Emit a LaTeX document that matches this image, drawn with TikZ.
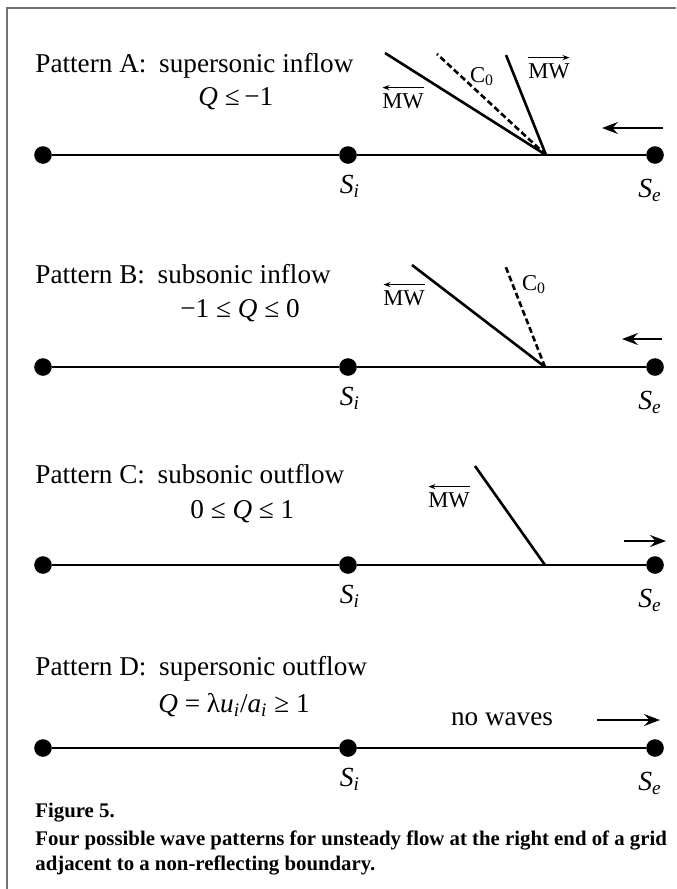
\documentclass[tikz,border=0pt]{standalone}
\usepackage{fontspec}
\setmainfont{Liberation Serif}
\usetikzlibrary{arrows.meta,positioning}

\begin{document}
\begin{tikzpicture}[x=0.5pt, y=-0.5pt,
    >={Stealth[length=8pt, width=6pt, inset=2.8pt]},
    frame/.style={draw=black!55, line width=0.8pt},
    dot/.style={circle, fill=black, inner sep=0pt, minimum size=8.8pt},
    grid/.style={line width=1pt},
    wave/.style={line width=1.3pt},
    sonic/.style={line width=1.3pt, dash pattern=on 3pt off 1.6pt},
    flow/.style={->, line width=1pt},
    mwarrow/.style={-{Stealth[length=3.5pt, width=2.6pt]}, line width=0.55pt, shorten >=0.3pt},
    title/.style={anchor=base west, inner sep=0pt, font=\fontsize{13.6}{16}\selectfont},
    wlabel/.style={anchor=base, inner sep=0pt, font=\fontsize{11.3}{13}\selectfont},
    slabel/.style={anchor=base, inner sep=0pt, font=\fontsize{13.8}{16}\selectfont\itshape},
    caption/.style={anchor=base west, inner sep=0pt, font=\fontsize{10.4}{13}\selectfont\bfseries}]
  \useasboundingbox (0,0) rectangle (676,889);
  \draw[frame] (7,889) -- (7,8) -- (676,8);

  % Pattern A
  \node[title] (titleA) at (35,72) {Pattern A:\hspace{0.22em} supersonic inflow};
  \node[title] (condA) at (198,105) {\textit{Q} ≤\,−1};
  \node[dot] (leftA) at (43,155) {};
  \node[dot] (siA) at (348,155) {};
  \node[dot] (seA) at (655,155) {};
  \draw[grid] (leftA) -- (siA) -- (seA);
  \node[slabel] (labSiA) at (350,193) {S\textsubscript{i}};
  \node[slabel] (labSeA) at (650,197) {S\textsubscript{e}};
  \coordinate (origA) at (546,155);
  \coordinate (mwlA) at (385,53);
  \coordinate (czA) at (437,54);
  \coordinate (mwrA) at (506,55);
  \draw[wave] (origA) -- (mwlA);
  \draw[sonic] (origA) -- (czA);
  \draw[wave] (origA) -- (mwrA);
  \node[wlabel] (labMwlA) at (403,108) {MW};
  \draw[mwarrow] ([yshift=2.6pt]labMwlA.north east) -- ([yshift=2.6pt]labMwlA.north west);
  \node[wlabel] (labCzA) at (482,82) {C\textsubscript{0}};
  \node[wlabel] (labMwrA) at (549,78) {MW};
  \draw[mwarrow] ([yshift=2.6pt]labMwrA.north west) -- ([yshift=2.6pt]labMwrA.north east);
  \coordinate (fromA) at (663,128);
  \coordinate (toA) at (602,128);
  \draw[flow] (fromA) -- (toA);

  % Pattern B
  \node[title] (titleB) at (35,283) {Pattern B:\hspace{0.22em} subsonic inflow};
  \node[title] (condB) at (180,317) {−1 ≤ \textit{Q} ≤ 0};
  \node[dot] (leftB) at (43,367) {};
  \node[dot] (siB) at (348,367) {};
  \node[dot] (seB) at (655,367) {};
  \draw[grid] (leftB) -- (siB) -- (seB);
  \node[slabel] (labSiB) at (350,405) {S\textsubscript{i}};
  \node[slabel] (labSeB) at (650,409) {S\textsubscript{e}};
  \coordinate (origB) at (545,367);
  \coordinate (mwB) at (412,265);
  \coordinate (czB) at (505,265);
  \draw[wave] (origB) -- (mwB);
  \draw[sonic] (origB) -- (czB);
  \node[wlabel] (labMwB) at (404,305) {MW};
  \draw[mwarrow] ([yshift=2.6pt]labMwB.north east) -- ([yshift=2.6pt]labMwB.north west);
  \node[wlabel] (labCzB) at (534,290) {C\textsubscript{0}};
  \coordinate (fromB) at (662,339);
  \coordinate (toB) at (622,339);
  \draw[flow] (fromB) -- (toB);

  % Pattern C
  \node[title] (titleC) at (35,483) {Pattern C:\hspace{0.22em} subsonic outflow};
  \node[title] (condC) at (190,518) {0 ≤ \textit{Q} ≤ 1};
  \node[dot] (leftC) at (43,565) {};
  \node[dot] (siC) at (348,565) {};
  \node[dot] (seC) at (655,565) {};
  \draw[grid] (leftC) -- (siC) -- (seC);
  \node[slabel] (labSiC) at (350,603) {S\textsubscript{i}};
  \node[slabel] (labSeC) at (650,607) {S\textsubscript{e}};
  \coordinate (origC) at (545,565);
  \coordinate (mwC) at (475,466);
  \draw[wave] (origC) -- (mwC);
  \node[wlabel] (labMwC) at (449,507) {MW};
  \draw[mwarrow] ([yshift=2.6pt]labMwC.north east) -- ([yshift=2.6pt]labMwC.north west);
  \coordinate (fromC) at (624,541);
  \coordinate (toC) at (666,541);
  \draw[flow] (fromC) -- (toC);

  % Pattern D
  \node[title] (titleD) at (35,675) {Pattern D:\hspace{0.22em} supersonic outflow};
  \node[title] (condD) at (158,712) {\textit{Q} = λ\textit{u}\textsubscript{\itshape i}/\textit{a}\textsubscript{\itshape i} ≥ 1};
  \node[dot] (leftD) at (43,748) {};
  \node[dot] (siD) at (348,748) {};
  \node[dot] (seD) at (655,748) {};
  \draw[grid] (leftD) -- (siD) -- (seD);
  \node[slabel] (labSiD) at (350,786) {S\textsubscript{i}};
  \node[slabel] (labSeD) at (650,790) {S\textsubscript{e}};
  \node[title, anchor=base] (nowaves) at (502,725) {no waves};
  \coordinate (fromD) at (597,720);
  \coordinate (toD) at (660,720);
  \draw[flow] (fromD) -- (toD);

  % caption
  \node[caption] (capHead) at (35,817) {Figure 5.};
  \node[caption] (capOne) at (35,845) {Four possible wave patterns for unsteady flow at the right end of a grid};
  \node[caption] (capTwo) at (35,870) {adjacent to a non-reflecting boundary.};
\end{tikzpicture}
\end{document}
